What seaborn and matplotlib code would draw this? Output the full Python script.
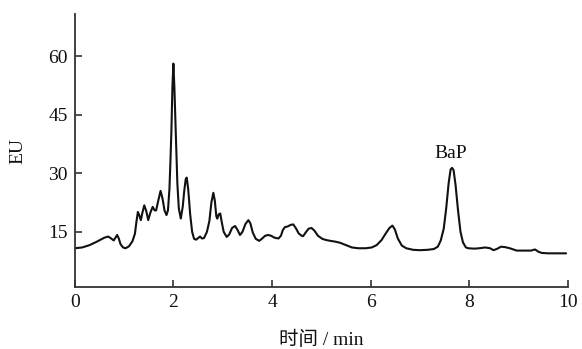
import matplotlib
matplotlib.use("Agg")
import matplotlib.pyplot as plt
import seaborn as sns
import pandas as pd

# Chromatogram trace (time in min, signal in EU)
time_min = [
    0.00, 0.15, 0.30, 0.45, 0.60, 0.68, 0.75, 0.79, 0.83, 0.86, 0.89, 0.93, 0.98, 1.03,
    1.10, 1.17, 1.22, 1.25, 1.28, 1.31, 1.34, 1.37, 1.41, 1.45, 1.49, 1.53, 1.58, 1.62,
    1.65, 1.69, 1.74, 1.78, 1.82, 1.86, 1.89, 1.92, 1.94, 1.96, 1.98, 2.00, 2.02, 2.05,
    2.08, 2.11, 2.15, 2.19, 2.22, 2.25, 2.27, 2.30, 2.34, 2.38, 2.42, 2.46, 2.51, 2.54,
    2.58, 2.62, 2.68, 2.73, 2.77, 2.81, 2.84, 2.87, 2.89, 2.92, 2.95, 2.98, 3.02, 3.08,
    3.13, 3.19, 3.25, 3.30, 3.35, 3.40, 3.46, 3.52, 3.56, 3.61, 3.67, 3.74, 3.80, 3.86,
    3.92, 3.98, 4.05, 4.13, 4.18, 4.22, 4.26, 4.32, 4.38, 4.43, 4.48, 4.54, 4.60, 4.63,
    4.68, 4.74, 4.80, 4.86, 4.93, 5.02, 5.10, 5.18, 5.28, 5.38, 5.50, 5.62, 5.75, 5.90,
    6.02, 6.12, 6.22, 6.30, 6.38, 6.44, 6.49, 6.55, 6.63, 6.72, 6.86, 7.00, 7.15, 7.28,
    7.36, 7.42, 7.48, 7.53, 7.58, 7.62, 7.65, 7.68, 7.72, 7.77, 7.82, 7.87, 7.93, 7.98,
    8.10, 8.20, 8.32, 8.42, 8.49, 8.57, 8.64, 8.72, 8.82, 8.96, 9.10, 9.25, 9.33, 9.40,
    9.47, 9.60, 9.80, 9.96,
]
signal_eu = [
    10.8, 11.0, 11.6, 12.5, 13.5, 13.8, 13.2, 12.8, 13.6, 14.2, 13.4, 11.8, 11.0, 10.8,
    11.3, 12.6, 14.5, 17.5, 20.1, 19.2, 18.0, 19.8, 21.8, 20.3, 18.0, 19.8, 21.4, 20.5,
    20.5, 22.8, 25.5, 23.5, 20.5, 19.3, 20.5, 26.0, 33.0, 41.0, 52.0, 58.1, 52.0, 40.0,
    27.5, 21.0, 18.4, 21.5, 25.5, 28.5, 28.9, 26.0, 19.5, 15.0, 13.2, 13.0, 13.5, 13.8,
    13.3, 13.4, 15.0, 17.8, 22.5, 25.0, 23.0, 19.0, 18.4, 19.5, 19.7, 17.5, 15.0, 13.7,
    14.3, 16.0, 16.5, 15.5, 14.2, 15.0, 17.0, 18.0, 17.2, 14.8, 13.2, 12.7, 13.3, 14.0,
    14.2, 14.0, 13.5, 13.3, 14.0, 15.5, 16.2, 16.4, 16.8, 16.9, 16.0, 14.6, 14.0, 13.9,
    14.8, 15.8, 16.0, 15.3, 14.0, 13.2, 12.9, 12.7, 12.5, 12.2, 11.6, 11.0, 10.8, 10.8,
    11.0, 11.6, 12.9, 14.5, 16.0, 16.6, 15.6, 13.3, 11.5, 10.8, 10.4, 10.3, 10.4, 10.6,
    11.2, 12.8, 15.8, 21.0, 27.5, 31.0, 31.4, 30.8, 27.0, 20.5, 15.0, 12.3, 11.0, 10.8,
    10.7, 10.8, 11.0, 10.8, 10.3, 10.7, 11.2, 11.1, 10.8, 10.2, 10.2, 10.2, 10.5, 9.9,
    9.6, 9.5, 9.5, 9.5,
]

x_ticks = [0, 2, 4, 6, 8, 10]
y_ticks = [15, 30, 45, 60]
peak_label = "BaP"
peak_time = 7.65
peak_height = 31.4
x_label = "时间 / min"
y_label = "EU"

sns.set_style("ticks")
plt.rcParams["font.family"] = ["Liberation Serif", "Noto Sans CJK SC"]

df = pd.DataFrame({"t": time_min, "eu": signal_eu})

fig = plt.figure(figsize=(5.82, 3.49), dpi=100)
ax = fig.add_axes([0.1284, 0.1768, 0.8476, 0.7831])

sns.lineplot(data=df, x="t", y="eu", ax=ax, color="#111111", linewidth=1.5,
             sort=False, estimator=None)
for line in ax.get_lines():
    line.set_solid_joinstyle("round")
    line.set_solid_capstyle("round")

ax.set_xlim(0, 10)
ax.set_ylim(0.8, 70.8)
ax.set_xticks(x_ticks)
ax.set_yticks(y_ticks)
ax.set_xticklabels([str(v) for v in x_ticks])
ax.set_yticklabels([str(v) for v in y_ticks])

for side in ["top", "right"]:
    ax.spines[side].set_visible(False)
for side in ["left", "bottom"]:
    ax.spines[side].set_linewidth(1.3)
    ax.spines[side].set_color("#333333")

fs = 14
ax.tick_params(axis="both", direction="in", length=5, width=1.2, color="#333333",
               labelsize=fs, pad=5, labelcolor="#111111")

ax.set_xlabel(x_label, fontsize=fs, color="#111111")
ax.set_ylabel(y_label, fontsize=fs, color="#111111")
ax.xaxis.set_label_coords(0.5, -0.193)
ax.yaxis.set_label_coords(-0.116, 0.5)
ax.xaxis.label.set_verticalalignment("center")
ax.yaxis.label.set_verticalalignment("center")

ax.text(peak_time - 0.03, peak_height + 1.4, peak_label, ha="center", va="bottom",
        fontsize=fs, color="#111111")

fig.savefig("out.png", dpi=100)
